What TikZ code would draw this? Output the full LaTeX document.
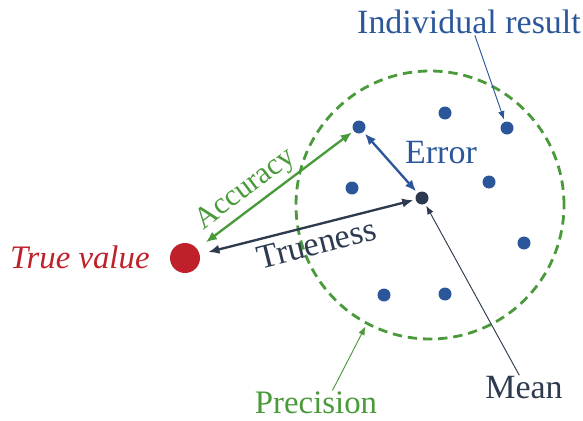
\documentclass[tikz,border=0pt]{standalone}
\usepackage{fontspec}
\setmainfont{Liberation Serif}
\usetikzlibrary{arrows.meta,positioning}
\definecolor{truered}{RGB}{192,32,42}
\definecolor{precgreen}{RGB}{74,154,60}
\definecolor{resblue}{RGB}{43,87,154}
\definecolor{meandark}{RGB}{45,58,79}

\begin{document}
\begin{tikzpicture}[
    x=0.03cm, y=-0.03cm,
    every node/.style={font=\fontsize{29}{34}\selectfont, inner sep=1pt},
    resdot/.style={circle, fill=resblue, inner sep=0pt, minimum size=0.39cm},
    meandot/.style={circle, fill=meandark, inner sep=0pt, minimum size=0.39cm},
    truedot/.style={circle, fill=truered, inner sep=0pt, minimum size=0.9cm},
    spreadring/.style={circle, draw=precgreen, line width=2.4pt, dash pattern=on 8pt off 5pt, inner sep=0pt, minimum size=8.04cm},
    bigarr/.style={{Latex[length=3.4mm, width=2.8mm]}-{Latex[length=3.4mm, width=2.8mm]}, line width=2pt, shorten >=0.06cm},
    thinarr/.style={-{Latex[length=2.6mm, width=2mm]}, line width=0.8pt, shorten >=0.06cm}
]
\useasboundingbox (0,0) rectangle (583,421);

% spread of the results
\node[spreadring] (spread) at (430,205) {};

% results, mean and true value
\node[truedot] (truev) at (185,258) {};
\node[meandot] (mean) at (422,198) {};
\node[resdot] (r1) at (359,127) {};
\node[resdot] (r2) at (445,113) {};
\node[resdot] (r3) at (507,128) {};
\node[resdot] (r4) at (352,188) {};
\node[resdot] (r5) at (489,182) {};
\node[resdot] (r6) at (524,243) {};
\node[resdot] (r7) at (384,295) {};
\node[resdot] (r8) at (445,294) {};

% labels
\node[text=truered, font=\fontsize{28}{34}\selectfont\itshape, anchor=east] (truelbl) at (151,257) {True value};
\node[text=resblue] (errlbl) at (441,153) {Error};
\node[text=resblue] (indlbl) at (469,22) {Individual result};
\node[text=meandark] (meanlbl) at (524,388) {Mean};
\node[text=precgreen, font=\fontsize{28}{34}\selectfont] (preclbl) at (316,403) {Precision};

% arrows
\draw[bigarr, precgreen, shorten <=0.32cm] (truev) -- node[sloped, above=2pt, pos=0.38, font=\fontsize{26}{30}\selectfont] {Accuracy} (r1);
\draw[bigarr, meandark, shorten <=0.26cm] (truev) -- node[sloped, below=4pt, pos=0.52] {Trueness} (mean);
\draw[bigarr, resblue, shorten <=0.06cm] (r1) -- (mean);
\draw[thinarr, resblue] ([xshift=5]indlbl.south) -- (r3);
\draw[thinarr, meandark] ([xshift=-4]meanlbl.north) -- (mean);
\draw[thinarr, precgreen] ([xshift=14]preclbl.north) -- (spread.242);

\end{tikzpicture}
\end{document}
